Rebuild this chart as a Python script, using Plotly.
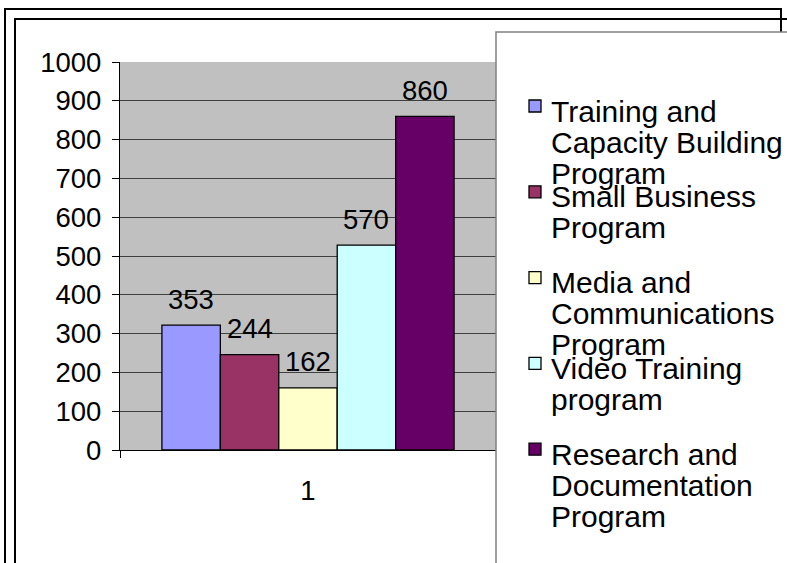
import plotly.graph_objects as go

# ---- data ----
categories = ["1"]
programs = [
    "Training and<br>Capacity Building<br>Program",
    "Small Business<br>Program",
    "Media and<br>Communications<br>Program",
    "Video Training<br>program",
    "Research and<br>Documentation<br>Program",
]
bar_values = [322, 246, 160, 528, 860]
value_labels = ["353", "244", "162", "570", "860"]
colors = ["#9999FF", "#993366", "#FFFFCC", "#CCFFFF", "#660066"]
y_ticks = [0, 100, 200, 300, 400, 500, 600, 700, 800, 900, 1000]

# ---- layout geometry (pixels) ----
W, H = 787, 563
L, R, T, B = 120, 291, 62, 113
PW, PH = W - L - R, H - T - B
FONT = "Arial, Liberation Sans, sans-serif"
BARGAP = 0.223


def px(x):
    return (x - L) / PW


def py(y):
    return (H - B - y) / PH


fig = go.Figure()
for name, v, c in zip(programs, bar_values, colors):
    fig.add_trace(go.Bar(
        x=categories, y=[v], name=name.replace("<br>", " "),
        marker=dict(color=c, line=dict(color="black", width=1.3)),
        showlegend=False, hoverinfo="skip",
    ))

annotations = []
# data labels, placed above each bar through the axes
n = len(bar_values)
group_w = 1 - BARGAP
for i, (v, lab) in enumerate(zip(bar_values, value_labels)):
    xc = -group_w / 2 + (i + 0.5) * group_w / n
    annotations.append(dict(xref="x", yref="y", x=xc, y=v, yanchor="middle", xanchor="center",
                            yshift=26, text=lab, showarrow=False,
                            font=dict(size=27.5, color="black", family=FONT)))

shapes = []
# outer double frame
shapes.append(dict(type="rect", xref="paper", yref="paper", x0=px(5), x1=px(781),
                   y0=py(9), y1=py(620), line=dict(color="black", width=2), layer="above"))
shapes.append(dict(type="rect", xref="paper", yref="paper", x0=px(15), x1=px(820),
                   y0=py(19), y1=py(620), line=dict(color="black", width=2), layer="above"))
# legend box
shapes.append(dict(type="rect", xref="paper", yref="paper", x0=px(496), x1=px(820),
                   y0=py(32), y1=py(620), line=dict(color="#808080", width=1.5),
                   fillcolor="white", layer="above"))

item_y0, item_step, line_step = 110, 85.8, 31
for i, (name, c) in enumerate(zip(programs, colors)):
    yc = item_y0 + i * item_step
    shapes.append(dict(type="rect", xref="paper", yref="paper",
                       x0=px(529), x1=px(541), y0=py(yc - 10), y1=py(yc + 2),
                       fillcolor=c, line=dict(color="black", width=1.3), layer="above"))
    for j, line in enumerate(name.split("<br>")):
        annotations.append(dict(xref="paper", yref="paper", x=px(549), y=py(yc + j * line_step + 1),
                                xanchor="left", yanchor="middle", text=line, showarrow=False,
                                font=dict(size=30, color="black", family=FONT)))

fig.update_layout(
    width=W, height=H,
    margin=dict(l=L, r=R, t=T, b=B, pad=0),
    paper_bgcolor="white", plot_bgcolor="#C0C0C0",
    barmode="group", bargap=BARGAP, bargroupgap=0,
    font=dict(family=FONT, size=27.5, color="black"),
    shapes=shapes, annotations=annotations,
    xaxis=dict(type="category", showline=True, linecolor="black", linewidth=1.3,
               ticks="outside", tickson="boundaries", ticklen=7, tickcolor="black",
               showgrid=False, tickfont=dict(size=27.5), ticklabelstandoff=16),
    yaxis=dict(range=[0, 1000], tickvals=y_ticks, showline=True, linecolor="black",
               linewidth=1.3, ticks="outside", ticklen=7, tickcolor="black",
               showgrid=True, gridcolor="#404040", gridwidth=1, zeroline=False,
               tickfont=dict(size=27.5), ticklabelstandoff=5),
)

fig.write_html("out.html", config={"displayModeBar": False},
               post_script="document.body.style.margin='0';")
